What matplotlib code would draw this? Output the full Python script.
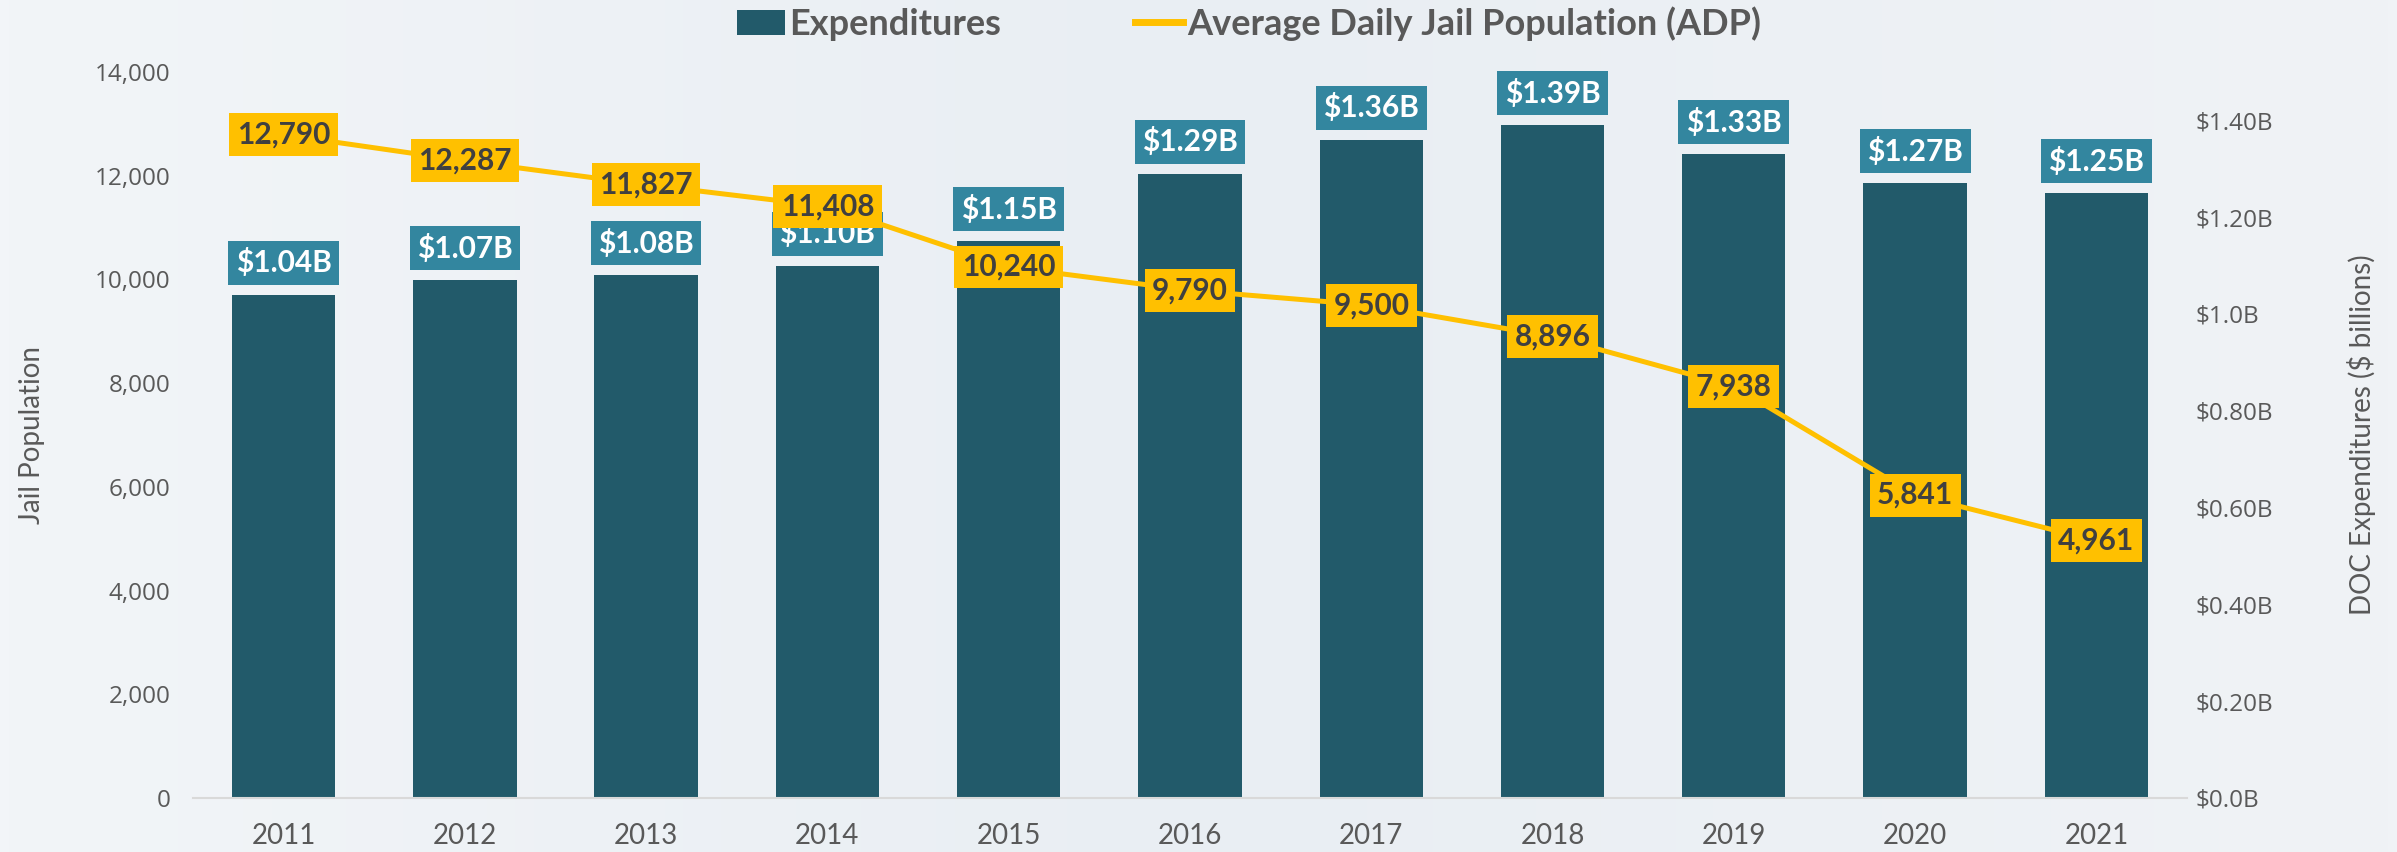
import matplotlib.pyplot as plt
import numpy as np
from matplotlib.patches import Patch
from matplotlib.lines import Line2D

years = ['2011', '2012', '2013', '2014', '2015', '2016',
         '2017', '2018', '2019', '2020', '2021']
expenditures = [1.04, 1.07, 1.08, 1.10, 1.15, 1.29, 1.36, 1.39, 1.33, 1.27, 1.25]
adp = [12790, 12287, 11827, 11408, 10240, 9790, 9500, 8896, 7938, 5841, 4961]

pop_ticks = [0, 2000, 4000, 6000, 8000, 10000, 12000, 14000]
exp_ticks = [0, 0.2, 0.4, 0.6, 0.8, 1.0, 1.2, 1.4]
exp_tick_labels = ['$0.0B', '$0.20B', '$0.40B', '$0.60B', '$0.80B',
                   '$1.0B', '$1.20B', '$1.40B']

bar_color = '#225a6a'
box_color = '#33869f'
line_color = '#ffc000'
text_dark = '#404040'
tick_color = '#595959'
narrow = ['Liberation Sans Narrow', 'Lato', 'DejaVu Sans']

fig = plt.figure(figsize=(23.97, 8.52), dpi=100)
fig.patch.set_facecolor('#eef2f6')

# soft background gradient
bg = fig.add_axes([0, 0, 1, 1], zorder=-10)
grad = np.linspace(0, 1, 256).reshape(1, -1)
grad = np.vstack([grad, grad])
bg.imshow(grad, aspect='auto', cmap=plt.matplotlib.colors.LinearSegmentedColormap.from_list(
    'bg', ['#f2f5f8', '#e9eef3', '#f0f3f6']), extent=[0, 1, 0, 1])
bg.axis('off')

ax = fig.add_axes([0.0805, 0.0634, 0.8319, 0.8521])
ax2 = ax.twinx()

x = np.arange(len(years))

# bars on the right (expenditure) axis
ax2.bar(x, expenditures, width=0.57, color=bar_color, zorder=2)
ax2.set_ylim(0, 1.5)
ax2.set_yticks(exp_ticks)
ax2.set_yticklabels(exp_tick_labels)
for i, v in enumerate(expenditures):
    ax2.annotate(f'${v:.2f}B', xy=(i, v), xytext=(0, 23), textcoords='offset points',
                 ha='center', va='center', fontsize=21.5, fontweight='bold',
                 family='Lato', color='white',
                 bbox=dict(boxstyle='square,pad=0.25', fc=box_color, ec='none'))

# line on the left (population) axis, drawn on top
ax.set_zorder(ax2.get_zorder() + 1)
ax.patch.set_visible(False)
ax.plot(x, adp, color=line_color, lw=3.6, zorder=3)
for i, v in enumerate(adp):
    ax.annotate(f'{v:,}', xy=(i, v), ha='center', va='center', fontsize=21.5,
                fontweight='bold', family='Lato', color=text_dark, zorder=4,
                bbox=dict(boxstyle='square,pad=0.25', fc=line_color, ec='none'))

ax.set_xlim(-0.5, len(years) - 0.5)
ax.set_ylim(0, 14000)
ax.set_yticks(pop_ticks)
ax.set_yticklabels([f'{t:,}' for t in pop_ticks])
ax.set_xticks(x)
ax.set_xticklabels(years)

for a in (ax, ax2):
    for s in a.spines.values():
        s.set_visible(False)
    a.tick_params(length=0)
ax.spines['bottom'].set_visible(True)
ax.spines['bottom'].set_color('#d9d9d9')
ax.spines['bottom'].set_linewidth(1.5)

ax.tick_params(axis='y', labelsize=17.5, labelcolor=tick_color, pad=16)
ax2.tick_params(axis='y', labelsize=17.5, labelcolor=tick_color, pad=6)
for lab in ax.get_yticklabels() + ax2.get_yticklabels():
    lab.set_family('Open Sans')
ax.tick_params(axis='x', labelsize=20, labelcolor=tick_color, pad=18)
for lab in ax.get_xticklabels():
    lab.set_family(narrow)

ax.set_ylabel('Jail Population', fontsize=20, color=tick_color, family=narrow, labelpad=36)
ax2.set_ylabel('DOC Expenditures ($ billions)', fontsize=20, color=tick_color,
               family=narrow, labelpad=53)

handles = [Patch(facecolor=bar_color, edgecolor='none'),
           Line2D([0], [0], color=line_color, lw=5)]
fig.legend(handles, ['Expenditures', 'Average Daily Jail Population (ADP)'],
           loc='center', bbox_to_anchor=(0.521, 0.972), ncol=2, frameon=False,
           prop={'family': 'Lato', 'weight': 'bold', 'size': 26},
           labelcolor=tick_color, handlelength=1.35, handleheight=0.72,
           handletextpad=0.1, columnspacing=3.7)

fig.savefig('out.png', dpi=100, facecolor=fig.get_facecolor())
